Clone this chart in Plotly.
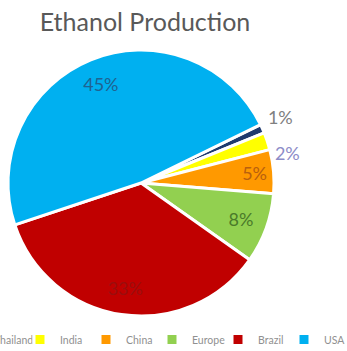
import plotly.graph_objects as go

# Data (labels show the values themselves)
countries = ["Thailand", "India", "China", "Europe", "Brazil", "USA"]
shares = [1, 2, 5, 8, 33, 45]
slice_colors = ["#1F3A6E", "#FFFF00", "#FF9900", "#92D050", "#C00000", "#00B0F0"]
label_colors = ["#808080", "#8C8CC8", "#B8600E", "#4A7A2A", "#9A0E0E", "#1F6391"]
# where each slice's label sits: 'ring' = inside the slice, 'out1'/'out2' = outside the pie
label_place = ["out1", "out2", "ring", "ring", "ring", "ring"]
title_text = "Ethanol Production"

W, H = 400, 351
FONT = "Lato, 'Open Sans', sans-serif"
ROT = 64
DOM = dict(x=[0.02, 0.685], y=[0.0277, 0.8462])
DOM_OUT1 = dict(x=[0.02, 0.685], y=[0.0585, 0.877])     # nudges the 1% label up
DOM_OUT2 = dict(x=[0.0325, 0.6975], y=[0.0, 0.8])       # nudges the 2% label down
LABEL_TMPL = "%{value}%"

fig = go.Figure()

# Coloured pie (carries the legend)
fig.add_trace(go.Pie(
    labels=countries, values=shares, sort=False,
    direction="clockwise", rotation=ROT,
    marker=dict(colors=slice_colors, line=dict(color="white", width=3)),
    textinfo="none", hoverinfo="label+value",
    domain=DOM, showlegend=True,
))

transparent = ["rgba(0,0,0,0)"] * len(countries)


def label_layer(kind, domain, hole, position):
    return go.Pie(
        labels=countries, values=shares, sort=False,
        direction="clockwise", rotation=ROT, hole=hole,
        marker=dict(colors=transparent, line=dict(width=0)),
        texttemplate=[LABEL_TMPL if p == kind else "" for p in label_place],
        textposition=[position if p == kind else "none" for p in label_place],
        insidetextorientation="horizontal",
        textfont=dict(family=FONT, size=18, color=label_colors),
        hoverinfo="skip", domain=domain, showlegend=False,
    )


# Transparent ring: inside labels sit further out, like the reference
fig.add_trace(label_layer("ring", DOM, 0.6, "inside"))
# Outside labels, each on its own transparent layer
fig.add_trace(label_layer("out1", DOM_OUT1, 0, "outside"))
fig.add_trace(label_layer("out2", DOM_OUT2, 0, "outside"))

fig.update_layout(
    width=W, height=H,
    margin=dict(l=0, r=0, t=0, b=26, autoexpand=False),
    paper_bgcolor="white", plot_bgcolor="white",
    font=dict(family=FONT, color="#595959"),
    title=dict(
        text=title_text,
        x=0.3625, xanchor="center",
        y=1 - 22 / H, yanchor="middle",
        font=dict(family=FONT, size=25, color="#595959"),
    ),
    legend=dict(
        orientation="h",
        x=-0.115, xanchor="left",
        y=0, yanchor="top",
        entrywidth=21,
        font=dict(family=FONT, size=10.5, color="#909090"),
        bgcolor="rgba(0,0,0,0)",
    ),
)

fig.write_html("out.html")
